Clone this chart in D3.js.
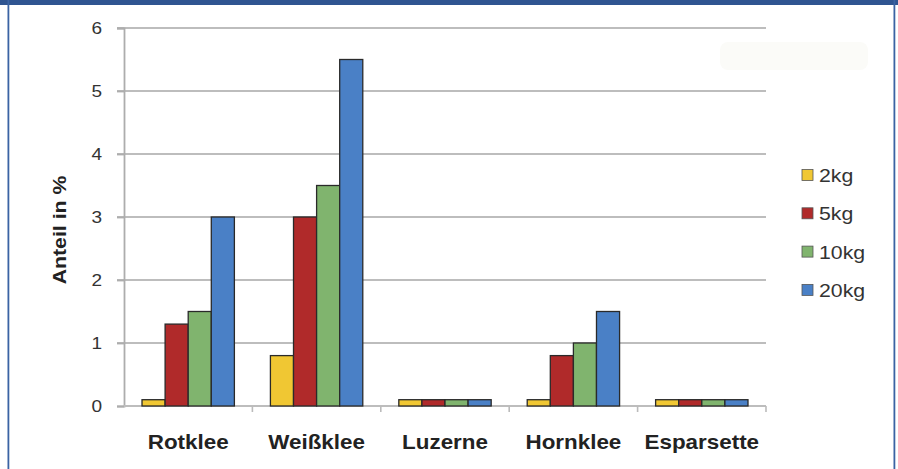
<!DOCTYPE html>
<html>
<head>
<meta charset="utf-8">
<script src="https://cdn.jsdelivr.net/npm/d3@7"></script>
<style>
  html, body { margin: 0; padding: 0; background: #fff; }
  svg { display: block; }
  text { font-family: "Liberation Sans", Arial, sans-serif; }
</style>
</head>
<body>
<svg id="chart" width="898" height="469"></svg>
<script>
// Kleearten und Anteile je Aussaatmenge
const categories = ["Rotklee", "Weißklee", "Luzerne", "Hornklee", "Esparsette"];
const seriesNames = ["2kg", "5kg", "10kg", "20kg"];
const values2kg  = [0.1, 0.8, 0.1, 0.1, 0.1];
const values5kg  = [1.3, 3.0, 0.1, 0.8, 0.1];
const values10kg = [1.5, 3.5, 0.1, 1.0, 0.1];
const values20kg = [3.0, 5.5, 0.1, 1.5, 0.1];
const yTicks = [0, 1, 2, 3, 4, 5, 6];
const colors = ["#f0c733", "#b02a2a", "#80b46e", "#4a80c6"];

const series = [values2kg, values5kg, values10kg, values20kg];

const svg = d3.select("#chart");
const W = 898, H = 469;
const STRETCH = 1.12; // horizontal widening of the lettering

// frame
svg.append("rect").attr("x", 0).attr("y", 0).attr("width", W).attr("height", 5).attr("fill", "#2f5591");
svg.append("rect").attr("x", 7.5).attr("y", 0).attr("width", 1.8).attr("height", H).attr("fill", "#3b63a3");
svg.append("rect").attr("x", 893.5).attr("y", 0).attr("width", 1.8).attr("height", H).attr("fill", "#3b63a3");

// faint panel top right
svg.append("rect").attr("x", 720).attr("y", 42).attr("width", 148).attr("height", 28)
  .attr("rx", 8).attr("fill", "#fbfbf8");

const plot = { left: 124, right: 766, top: 28, bottom: 406 };

const x = d3.scaleBand().domain(categories).range([plot.left, plot.right]).paddingInner(0).paddingOuter(0);
const x1 = d3.scaleBand().domain(seriesNames).range([0, x.bandwidth()]).paddingInner(0).paddingOuter(0.78);
const y = d3.scaleLinear().domain([0, 6]).range([plot.bottom, plot.top]);

// gridlines
svg.append("g").selectAll("line").data(yTicks.filter(d => d > 0)).join("line")
  .attr("x1", plot.left - 7).attr("x2", plot.right)
  .attr("y1", d => y(d)).attr("y2", d => y(d))
  .attr("stroke", "#bdbdbd").attr("stroke-width", 1.8);

// y axis line and ticks
const yAxis = svg.append("g").attr("transform", `translate(${plot.left},0)`)
  .call(d3.axisLeft(y).tickValues(yTicks).tickSize(7).tickFormat(""));
yAxis.select(".domain").attr("stroke", "#adadad").attr("stroke-width", 1.8);
yAxis.selectAll(".tick line").attr("stroke", "#adadad").attr("stroke-width", 1.8);

// y tick labels
svg.append("g").selectAll("text").data(yTicks).join("text")
  .attr("transform", d => `translate(102,${y(d) + 6}) scale(${STRETCH},1)`)
  .attr("text-anchor", "end")
  .attr("font-size", 17).attr("fill", "#333")
  .text(d => d3.format("d")(d));

// x axis baseline
svg.append("line")
  .attr("x1", plot.left).attr("x2", plot.right)
  .attr("y1", plot.bottom).attr("y2", plot.bottom)
  .attr("stroke", "#bdbdbd").attr("stroke-width", 1.8);
// category separators
const seps = categories.slice(1).map(c => x(c)).concat([plot.right]);
svg.append("g").selectAll("line").data(seps).join("line")
  .attr("x1", d => d).attr("x2", d => d)
  .attr("y1", plot.bottom).attr("y2", plot.bottom + 6)
  .attr("stroke", "#bbb").attr("stroke-width", 1.6);

// category labels
svg.append("g").selectAll("text").data(categories).join("text")
  .attr("transform", d => `translate(${x(d) + x.bandwidth() / 2},449) scale(${STRETCH},1)`)
  .attr("text-anchor", "middle")
  .attr("font-size", 20).attr("font-weight", "bold").attr("fill", "#222")
  .text(d => d);

// bars
const groups = svg.append("g").selectAll("g").data(categories).join("g")
  .attr("transform", d => `translate(${x(d)},0)`);
groups.selectAll("rect")
  .data((c, ci) => series.map((s, si) => ({ key: seriesNames[si], v: s[ci], color: colors[si] })))
  .join("rect")
  .attr("x", d => x1(d.key))
  .attr("width", x1.bandwidth())
  .attr("y", d => y(d.v))
  .attr("height", d => y(0) - y(d.v))
  .attr("fill", d => d.color)
  .attr("stroke", "#2a2a2a").attr("stroke-width", 1.3);

// y title
svg.append("text")
  .attr("transform", `translate(66,${(plot.top + plot.bottom) / 2 + 13}) rotate(-90) scale(${STRETCH},1)`)
  .attr("text-anchor", "middle")
  .attr("font-size", 19).attr("font-weight", "bold").attr("fill", "#222")
  .text("Anteil in %");

// legend
const legend = svg.append("g").selectAll("g").data(seriesNames).join("g")
  .attr("transform", (d, i) => `translate(802,${175 + i * 38.3})`);
legend.append("rect").attr("x", 0).attr("y", -5.5).attr("width", 11).attr("height", 11)
  .attr("fill", (d, i) => colors[i]).attr("stroke", "#555").attr("stroke-width", 0.8);
legend.append("text")
  .attr("transform", `translate(17,7) scale(${STRETCH},1)`)
  .attr("font-size", 19).attr("fill", "#333").text(d => d);
</script>
</body>
</html>
